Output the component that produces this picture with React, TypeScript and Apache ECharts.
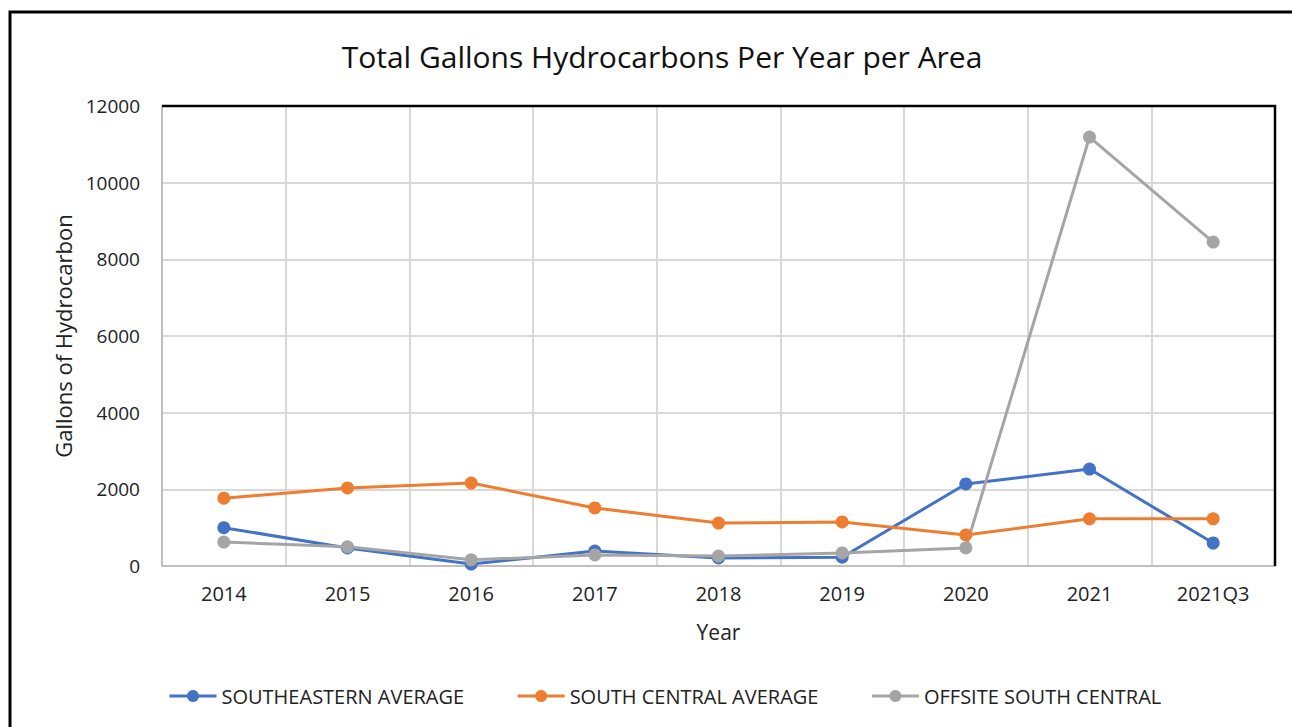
import React, { useEffect, useRef } from "react";
import * as echarts from "echarts";

const categories = ["2014", "2015", "2016", "2017", "2018", "2019", "2020", "2021", "2021Q3"];
const southeastern = [1000, 470, 50, 390, 210, 230, 2140, 2530, 600];
const southCentral = [1770, 2035, 2165, 1515, 1120, 1150, 810, 1230, 1230];
const offsite = [625, 500, 160, 290, 260, 340, 470, 11190, 8450];
const yTicks = { min: 0, max: 12000, interval: 2000 };

const FONT = "Open Sans";

export default function App() {
  const ref = useRef<HTMLDivElement>(null);
  useEffect(() => {
    const chart = echarts.init(ref.current!, null, { renderer: "svg" });
    const mk = (name: string, data: number[], color: string) => ({
      name,
      type: "line",
      data,
      symbol: "circle",
      symbolSize: 13,
      lineStyle: { color, width: 3 },
      itemStyle: { color },
      z: 3,
    });
    chart.setOption({
      animation: false,
      backgroundColor: "#fff",
      textStyle: { fontFamily: FONT },
      title: {
        text: "Total Gallons Hydrocarbons Per Year per Area",
        left: 657,
        textAlign: "center",
        top: 36,
        textStyle: { fontFamily: FONT, fontSize: 30, fontWeight: "normal", color: "#111" },
      },
      grid: {
        left: 162,
        right: 17,
        top: 106,
        bottom: 161,
        containLabel: false,
      },
      legend: {
        left: 163,
        top: 681,
        itemWidth: 47,
        itemHeight: 15,
        itemGap: 52,
        textStyle: { fontFamily: FONT, fontSize: 20, color: "#222" },
        lineStyle: { width: 3 },
        data: ["SOUTHEASTERN AVERAGE", "SOUTH CENTRAL AVERAGE", "OFFSITE SOUTH CENTRAL"],
      },
      xAxis: {
        type: "category",
        data: categories,
        boundaryGap: true,
        name: "Year",
        nameLocation: "middle",
        nameGap: 55,
        nameTextStyle: { fontFamily: FONT, fontSize: 21, color: "#222" },
        axisLine: { show: true, lineStyle: { color: "#bfbfbf", width: 2 } },
        axisTick: { show: false },
        axisLabel: { fontFamily: FONT, fontSize: 20, color: "#222", margin: 17 },
        splitLine: { show: true, lineStyle: { color: "#d9d9d9", width: 2 } },
      },
      yAxis: {
        type: "value",
        min: yTicks.min,
        max: yTicks.max,
        interval: yTicks.interval,
        name: "Gallons of Hydrocarbon",
        nameLocation: "middle",
        nameRotate: 90,
        nameGap: 88,
        nameTextStyle: { fontFamily: FONT, fontSize: 22, color: "#222" },
        axisLine: { show: true, lineStyle: { color: "#bfbfbf", width: 2 } },
        axisTick: { show: false },
        axisLabel: {
          fontFamily: FONT,
          fontSize: 19,
          color: "#222",
          margin: 22,
          formatter: (v: number) => String(v),
        },
        splitLine: { show: true, lineStyle: { color: "#d9d9d9", width: 2 } },
      },
      graphic: [
        {
          type: "rect",
          shape: { x: 10, y: 12, width: 1400, height: 900 },
          style: { fill: "none", stroke: "#000", lineWidth: 3 },
          silent: true,
        },
        {
          type: "polyline",
          shape: { points: [[162, 106], [1275, 106], [1275, 566]] },
          style: { fill: "none", stroke: "#000", lineWidth: 2.5 },
          z: 10,
          silent: true,
        },
      ],
      series: [
        mk("SOUTHEASTERN AVERAGE", southeastern, "#4472C4"),
        mk("SOUTH CENTRAL AVERAGE", southCentral, "#ED7D31"),
        mk("OFFSITE SOUTH CENTRAL", offsite, "#A5A5A5"),
      ],
    });
    return () => chart.dispose();
  }, []);
  return (
    <div
      ref={ref}
      style={{ position: "fixed", left: 0, top: 0, width: 1292, height: 727, background: "#fff" }}
    />
  );
}
